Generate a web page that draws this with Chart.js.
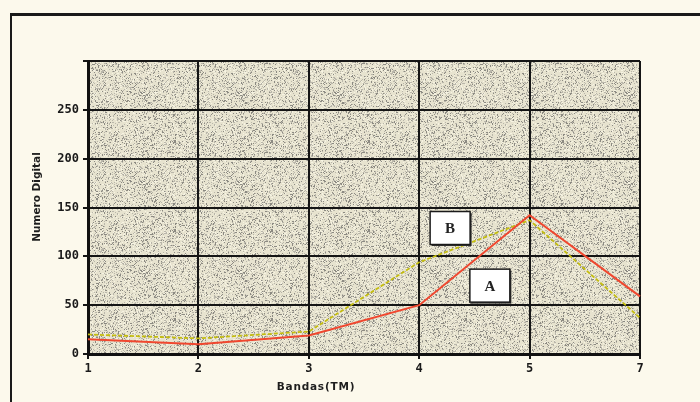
<!DOCTYPE html>
<html>
<head>
<meta charset="utf-8">
<script src="https://cdn.jsdelivr.net/npm/chart.js@4.4.1/dist/chart.umd.min.js"></script>
<style>
  html, body { margin: 0; padding: 0; background: #fcf9ec; }
  #wrap { width: 700px; height: 402px; position: relative; }
</style>
</head>
<body>
<div id="wrap"><canvas id="lineChart"></canvas></div>
<script>
// datos
const bandas = ['1', '2', '3', '4', '5', '7'];
const serieA = [15, 10, 19, 50, 142, 59];
const serieB = [20, 16, 23, 94, 137, 37];
const yMin = 0, yMax = 300, yPaso = 50;

// etiquetas dentro del grafico (posicion en unidades de datos)
const etiquetas = ['B', 'A'];
const etiquetaX = [3.28, 3.64];
const etiquetaY = [129, 70];

// textura punteada del fondo
function ruido(x, y) {
    let h = Math.imul(x, 0x27d4eb2d) ^ Math.imul(y, 0x165667b1);
    h = Math.imul(h ^ (h >>> 15), 0x85ebca6b);
    h = Math.imul(h ^ (h >>> 13), 0xc2b2ae35);
    h = (h ^ (h >>> 16)) >>> 0;
    return h / 4294967296;
}

function crearTextura(ctx) {
    const c = document.createElement('canvas');
    c.width = 97; c.height = 89;
    const g = c.getContext('2d');
    g.fillStyle = '#e7e3cf';
    g.fillRect(0, 0, c.width, c.height);
    for (let y = 0; y < c.height; y++) {
        for (let x = 0; x < c.width; x++) {
            const v = ruido(x, y);
            if (v < 0.10) { g.fillStyle = '#8c8a82'; g.fillRect(x, y, 1, 1); }
            else if (v < 0.24) { g.fillStyle = '#b9b6aa'; g.fillRect(x, y, 1, 1); }
            else if (v > 0.90) { g.fillStyle = '#f6f3e2'; g.fillRect(x, y, 1, 1); }
        }
    }
    return ctx.createPattern(c, 'repeat');
}

const fondo = {
    id: 'fondo',
    beforeDraw(chart) {
        const ctx = chart.ctx;
        const a = chart.chartArea;
        ctx.save();
        ctx.fillStyle = '#fcf9ec';
        ctx.fillRect(0, 0, chart.width, chart.height);
        ctx.fillStyle = crearTextura(ctx);
        ctx.fillRect(a.left, a.top, a.right - a.left, a.bottom - a.top);
        // marco del recuadro
        ctx.strokeStyle = '#1a1a1a';
        ctx.lineWidth = 3;
        ctx.beginPath();
        ctx.moveTo(10, 14.5); ctx.lineTo(700, 14.5);
        ctx.stroke();
        ctx.lineWidth = 2;
        ctx.beginPath();
        ctx.moveTo(11, 14); ctx.lineTo(11, 402);
        ctx.stroke();
        // titulos de los ejes
        ctx.fillStyle = '#1e1e1e';
        ctx.font = 'bold 10.5px "DejaVu Sans"';
        ctx.textAlign = 'center';
        ctx.textBaseline = 'middle';
        ctx.letterSpacing = '0.8px';
        ctx.fillText('Bandas(TM)', 316, 387);
        ctx.letterSpacing = '0px';
        ctx.translate(37, 197);
        ctx.rotate(-Math.PI / 2);
        ctx.fillText('Numero Digital', 0, 0);
        ctx.restore();
    }
};

const cajas = {
    id: 'cajas',
    afterDatasetsDraw(chart) {
        const ctx = chart.ctx;
        const sx = chart.scales.x, sy = chart.scales.y;
        ctx.save();
        etiquetas.forEach(function(t, i) {
            const cx = sx.getPixelForValue(etiquetaX[i]);
            const cy = sy.getPixelForValue(etiquetaY[i]);
            const w = 40, h = 33;
            ctx.fillStyle = '#333';
            ctx.fillRect(cx - w / 2 + 1.5, cy - h / 2 + 1.5, w, h);
            ctx.fillStyle = '#ffffff';
            ctx.fillRect(cx - w / 2, cy - h / 2, w, h);
            ctx.strokeStyle = '#1a1a1a';
            ctx.lineWidth = 1.5;
            ctx.strokeRect(cx - w / 2, cy - h / 2, w, h);
            ctx.fillStyle = '#222';
            ctx.font = 'bold 15px "Liberation Serif"';
            ctx.textAlign = 'center';
            ctx.textBaseline = 'middle';
            ctx.fillText(t, cx, cy + 1);
        });
        ctx.restore();
    }
};

document.addEventListener('DOMContentLoaded', function() {
    const ctx = document.getElementById('lineChart').getContext('2d');
    const fuenteTicks = { family: '"DejaVu Sans Mono"', size: 12, weight: 'bold' };

    new Chart(ctx, {
        type: 'line',
        data: {
            labels: bandas,
            datasets: [{
                label: 'A',
                data: serieA,
                borderColor: '#f0472f',
                borderWidth: 2,
                pointRadius: 0,
                tension: 0
            }, {
                label: 'B',
                data: serieB,
                borderColor: '#c4bd10',
                borderWidth: 1.8,
                borderDash: [4, 2],
                pointRadius: 0,
                tension: 0
            }]
        },
        options: {
            responsive: true,
            maintainAspectRatio: false,
            animation: false,
            layout: { padding: { top: 61, right: 60, bottom: 0, left: 0 } },
            plugins: { legend: { display: false }, tooltip: { enabled: false } },
            scales: {
                x: {
                    offset: false,
                    grid: { color: '#151515', lineWidth: 2, tickLength: 5 },
                    border: { color: '#111', width: 3 },
                    ticks: { font: fuenteTicks, color: '#1a1a1a', padding: 3, maxRotation: 0, autoSkip: false },
                    afterFit: function(s) { s.height = 48; }
                },
                y: {
                    min: yMin,
                    max: yMax,
                    grid: { color: '#151515', lineWidth: 2, tickLength: 5 },
                    border: { color: '#111', width: 3 },
                    ticks: {
                        stepSize: yPaso,
                        font: fuenteTicks,
                        color: '#1a1a1a',
                        padding: 4,
                        callback: function(v) { return v === yMax ? '' : v; }
                    },
                    afterFit: function(s) { s.width = 88; }
                }
            }
        },
        plugins: [fondo, cajas]
    });
});
</script>
</body>
</html>
